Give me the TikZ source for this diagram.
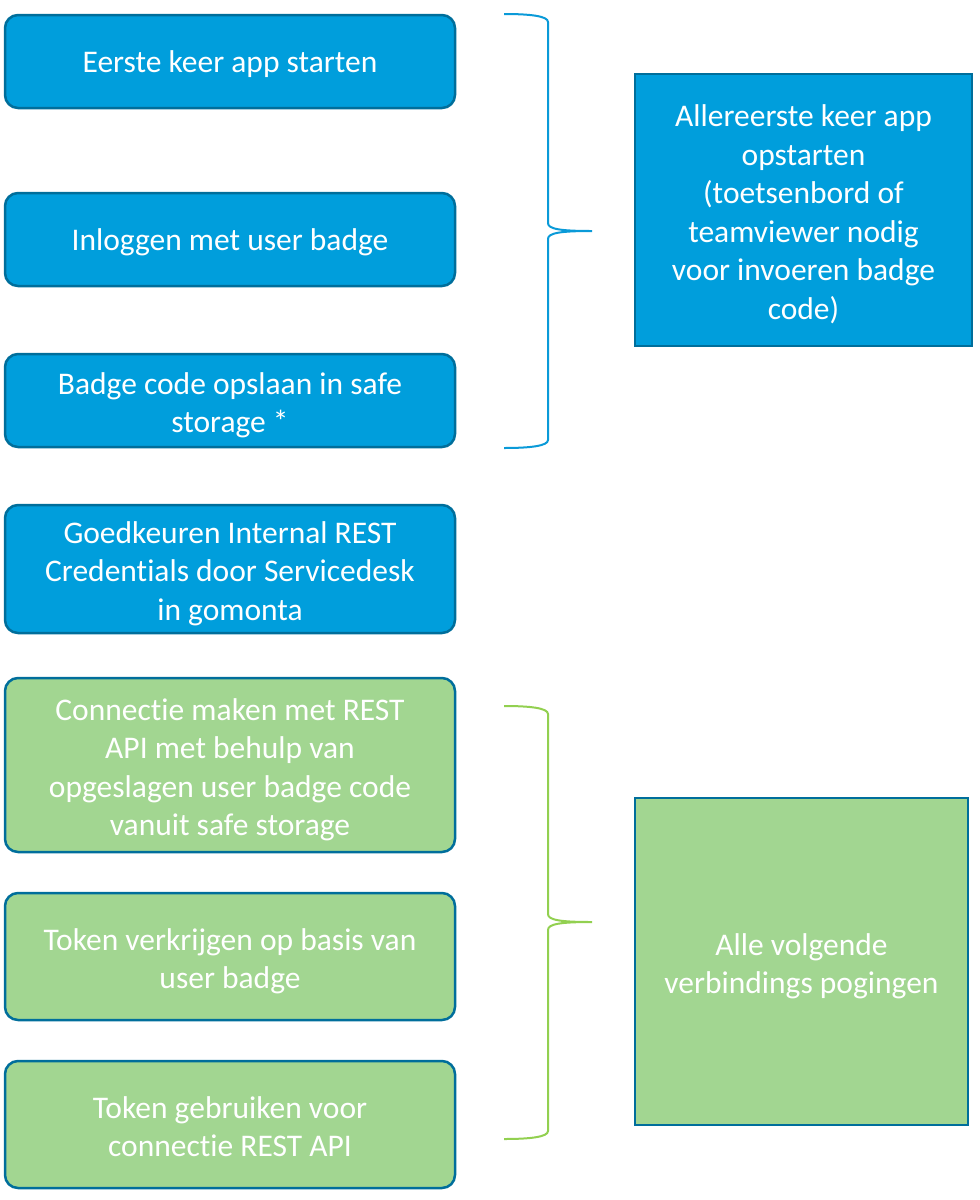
\documentclass[tikz,border=0pt]{standalone}
\usepackage{fontspec}
\setmainfont[RawFeature={-liga}]{Carlito}
\definecolor{bfill}{RGB}{0,158,220}
\definecolor{bline}{RGB}{0,110,155}
\definecolor{gfill}{RGB}{162,214,145}
\definecolor{bbrace}{RGB}{10,154,216}
\definecolor{gbrace}{RGB}{146,208,80}
\newcommand\boxstrut{\rule[-8pt]{0pt}{38.4pt}}
\newcommand\topstrut{\rule[-8pt]{0pt}{41.9pt}}
\begin{document}
\begin{tikzpicture}[x=1pt,y=-1pt,
  txt/.style={text=white,align=center,inner sep=0pt,
    font=\fontsize{31.5}{38.5}\selectfont,
    execute at begin node=\boxstrut,execute at end node=\boxstrut},
  stepbox/.style={txt,draw=bline,line width=2.5pt,rounded corners=13pt,
    minimum width=450pt},
  bluebox/.style={stepbox,fill=bfill},
  greenbox/.style={stepbox,fill=gfill},
  sidebox/.style={txt,draw=bline,line width=2.5pt},
  brace/.style={line width=2pt}]
\useasboundingbox (0,0) rectangle (980,1200);
\node[bluebox,minimum height=93pt] (a) at (230,61.5) {Eerste keer app starten};
\node[bluebox,minimum height=93pt] (b) at (230,239.5) {Inloggen met user badge};
\node[bluebox,minimum height=93pt] (c) at (230,400.5) {\topstrut Badge code opslaan in safe\\storage *};
\node[bluebox,minimum height=128pt] (d) at (230,569) {\topstrut Goedkeuren Internal REST\\Credentials door Servicedesk\\in gomonta};
\node[greenbox,minimum height=174pt] (e) at (230,765) {\topstrut Connectie maken met REST\\API met behulp van\\opgeslagen user badge code\\vanuit safe storage};
\node[greenbox,minimum height=127pt] (f) at (230,956.5) {\topstrut Token verkrijgen op basis van\\user badge};
\node[greenbox,minimum height=127pt] (g) at (230,1124.5) {\topstrut Token gebruiken voor\\connectie REST API};
\node[sidebox,fill=bfill,minimum width=337pt,minimum height=272pt] (r1) at (803.5,210) {\topstrut Allereerste keer app\\opstarten\\(toetsenbord of\\teamviewer nodig\\voor invoeren badge\\code)};
\node[sidebox,fill=gfill,minimum width=333pt,minimum height=327pt] (r2) at (801.5,961.5) {\topstrut Alle volgende\\verbindings pogingen};
% blue brace
\coordinate (bt) at (504,14);
\coordinate (bb) at (504,448);
\coordinate (btip) at (592,231);
\draw[brace,draw=bbrace] (bt) .. controls (530,14) and (548,16) .. (548,22)
  -- (548,223) .. controls (548,229) and (560,231) .. (btip)
  .. controls (560,231) and (548,233) .. (548,239)
  -- (548,440) .. controls (548,446) and (530,448) .. (bb);
% green brace
\coordinate (gt) at (504,706);
\coordinate (gb) at (504,1139);
\coordinate (gtip) at (592,922);
\draw[brace,draw=gbrace] (gt) .. controls (530,706) and (548,708) .. (548,714)
  -- (548,914) .. controls (548,920) and (560,922) .. (gtip)
  .. controls (560,922) and (548,924) .. (548,930)
  -- (548,1131) .. controls (548,1137) and (530,1139) .. (gb);
\end{tikzpicture}
\end{document}
